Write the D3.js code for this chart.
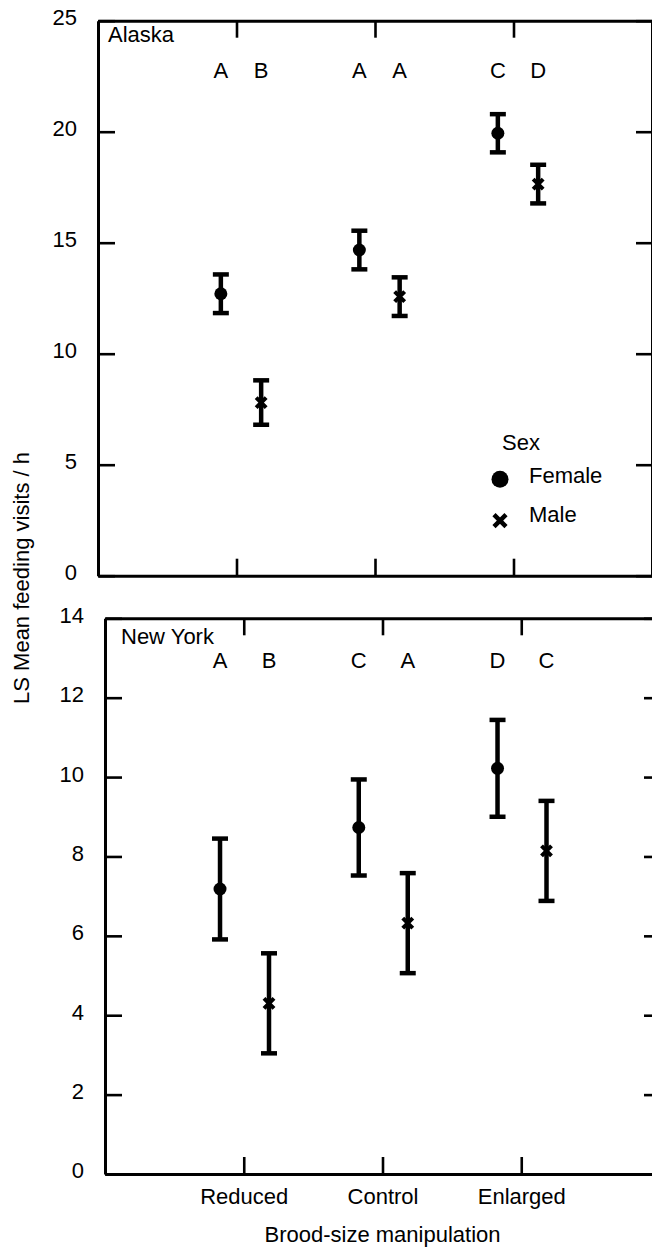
<!DOCTYPE html>
<html>
<head>
  <meta charset='utf-8'>
  <title>LS mean feeding visits</title>
  <style>
    body { margin: 0; background: #fff; }
    svg { display: block; font-family: 'Liberation Sans', Arial, sans-serif; }
  </style>
  <script src='https://cdn.jsdelivr.net/npm/d3@7/dist/d3.min.js'></script>
</head>
<body>
  <svg id='chart' width='652' height='1249'></svg>
  <script>
    // data
    const categories = ['Reduced', 'Control', 'Enlarged'];
    const sexes = ['Female', 'Male'];

    const alaskaFemaleMean = [12.70, 14.67, 19.93];
    const alaskaFemaleErr = [0.87, 0.87, 0.86];
    const alaskaMaleMean = [7.80, 12.57, 17.64];
    const alaskaMaleErr = [1.00, 0.87, 0.87];
    const alaskaFemaleLetters = ['A', 'A', 'C'];
    const alaskaMaleLetters = ['B', 'A', 'D'];
    const alaskaTicks = [0, 5, 10, 15, 20, 25];

    const nyFemaleMean = [7.18, 8.73, 10.22];
    const nyFemaleErr = [1.27, 1.21, 1.22];
    const nyMaleMean = [4.30, 6.32, 8.14];
    const nyMaleErr = [1.26, 1.26, 1.26];
    const nyFemaleLetters = ['A', 'C', 'D'];
    const nyMaleLetters = ['B', 'A', 'C'];
    const nyTicks = [0, 2, 4, 6, 8, 10, 12, 14];

    const svg = d3.select('#chart');
    const FONT = 22;

    function drawPanel(cfg) {
        const g = svg.append('g')
            .attr('transform', `translate(${cfg.left}, ${cfg.top})`);
        const x = d3.scaleLinear().domain([0, 4]).range([0, cfg.width]);
        const y = d3.scaleLinear()
            .domain([0, d3.max(cfg.ticks)])
            .range([cfg.height, 0]);
        const catIndex = c => categories.indexOf(c) + 1;

        // frame axes, ticks pointing inward
        const axes = [
            { axis: d3.axisLeft(y).tickValues(cfg.ticks).tickSize(-17)
                .tickPadding(21), t: 'translate(0,0)', labels: true, left: true },
            { axis: d3.axisRight(y).tickValues(cfg.ticks).tickSize(-16)
                .tickFormat(''), t: `translate(${cfg.width},0)` },
            { axis: d3.axisBottom(x).tickValues([1, 2, 3]).tickSize(-17)
                .tickPadding(14).tickFormat(d => categories[d - 1]),
              t: `translate(0,${cfg.height})`, labels: cfg.xLabels },
            { axis: d3.axisTop(x).tickValues([1, 2, 3]).tickSize(-17)
                .tickFormat(''), t: 'translate(0,0)' }
        ];
        axes.forEach(a => {
            const ga = g.append('g')
                .attr('transform', a.t)
                .call(a.axis.tickSizeOuter(0));
            ga.select('.domain').attr('stroke', '#000').attr('stroke-width', 3);
            ga.selectAll('.tick line').attr('stroke', '#000').attr('stroke-width', 2.6);
            ga.selectAll('.tick text')
                .attr('font-size', FONT)
                .attr('font-family', "'Liberation Sans', Arial, sans-serif")
                .attr('fill', '#000');
            if (a.left) ga.selectAll('.tick text').attr('dy', '0.18em');
            if (!a.labels) ga.selectAll('.tick text').remove();
        });

        // panel title
        g.append('text')
            .attr('x', cfg.titleX)
            .attr('y', cfg.titleY)
            .attr('dy', '0.35em')
            .attr('font-size', FONT)
            .text(cfg.title);

        const rows = [];
        categories.forEach((c, i) => {
            rows.push({ cat: c, sex: 'Female', mean: cfg.fMean[i],
                err: cfg.fErr[i], letter: cfg.fLetters[i] });
            rows.push({ cat: c, sex: 'Male', mean: cfg.mMean[i],
                err: cfg.mErr[i], letter: cfg.mLetters[i] });
        });
        const px = d => x(catIndex(d.cat) + (d.sex === 'Female' ? cfg.fShift : cfg.mShift));

        // significance letters
        g.selectAll('.letter').data(rows).enter().append('text')
            .attr('class', 'letter')
            .attr('x', px)
            .attr('y', cfg.letterY)
            .attr('dy', '0.35em')
            .attr('text-anchor', 'middle')
            .attr('font-size', FONT)
            .text(d => d.letter);

        // error bars
        const bars = g.selectAll('.bar').data(rows).enter().append('g')
            .attr('class', 'bar');
        bars.append('line')
            .attr('x1', px).attr('x2', px)
            .attr('y1', d => y(d.mean - d.err))
            .attr('y2', d => y(d.mean + d.err))
            .attr('stroke', '#000').attr('stroke-width', 4.5);
        [-1, 1].forEach(s => {
            bars.append('line')
                .attr('x1', d => px(d) - 8).attr('x2', d => px(d) + 8)
                .attr('y1', d => y(d.mean + s * d.err))
                .attr('y2', d => y(d.mean + s * d.err))
                .attr('stroke', '#000').attr('stroke-width', 4.5);
        });
        // markers
        bars.filter(d => d.sex === 'Female').append('circle')
            .attr('cx', px).attr('cy', d => y(d.mean))
            .attr('r', 6.5).attr('fill', '#000');
        bars.filter(d => d.sex === 'Male').append('path')
            .attr('d', d => {
                const cx = px(d), cy = y(d.mean), r = 5;
                return `M${cx - r},${cy - r}L${cx + r},${cy + r}` +
                    `M${cx - r},${cy + r}L${cx + r},${cy - r}`;
            })
            .attr('stroke', '#000').attr('stroke-width', 4);
        return g;
    }

    const alaskaPanel = drawPanel({
        left: 98, top: 20.7, width: 554, height: 555,
        ticks: alaskaTicks, title: 'Alaska', titleX: 10, titleY: 14,
        letterY: 50, fShift: -0.113, mShift: 0.178,
        fMean: alaskaFemaleMean, fErr: alaskaFemaleErr,
        mMean: alaskaMaleMean, mErr: alaskaMaleErr,
        fLetters: alaskaFemaleLetters, mLetters: alaskaMaleLetters,
        xLabels: false
    });

    drawPanel({
        left: 105, top: 618.3, width: 555, height: 555.7,
        ticks: nyTicks, title: 'New York', titleX: 16, titleY: 18,
        letterY: 42, fShift: -0.171, mShift: 0.182,
        fMean: nyFemaleMean, fErr: nyFemaleErr,
        mMean: nyMaleMean, mErr: nyMaleErr,
        fLetters: nyFemaleLetters, mLetters: nyMaleLetters,
        xLabels: true
    });

    // legend inside the Alaska panel
    const legend = alaskaPanel.append('g').attr('transform', 'translate(402, 422)');
    legend.append('text')
        .attr('x', 2).attr('y', 0).attr('dy', '0.35em')
        .attr('font-size', FONT).text('Sex');
    sexes.forEach((s, i) => {
        const ly = 35 + i * 39;
        if (s === 'Female') {
            legend.append('circle').attr('cx', 0).attr('cy', ly + 1.5)
                .attr('r', 8.5).attr('fill', '#000');
        } else {
            legend.append('path')
                .attr('d', `M-6,${ly - 2}L6,${ly + 10}M-6,${ly + 10}L6,${ly - 2}`)
                .attr('stroke', '#000').attr('stroke-width', 4.5);
        }
        legend.append('text')
            .attr('x', 29).attr('y', ly - 2).attr('dy', '0.35em')
            .attr('font-size', FONT).text(s);
    });

    // axis titles
    svg.append('text')
        .attr('transform', 'translate(21, 578) rotate(-90)')
        .attr('text-anchor', 'middle')
        .attr('dy', '0.35em')
        .attr('font-size', FONT)
        .text('LS Mean feeding visits / h');
    svg.append('text')
        .attr('x', 382.5).attr('y', 1234)
        .attr('text-anchor', 'middle')
        .attr('dy', '0.35em')
        .attr('font-size', FONT)
        .text('Brood-size manipulation');
  </script>
</body>
</html>
